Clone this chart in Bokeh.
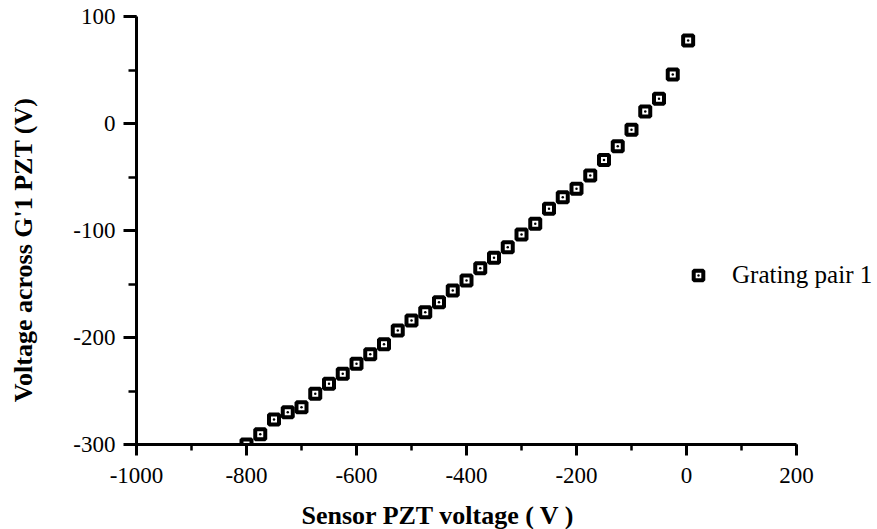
from bokeh.plotting import figure
from bokeh.models import (Range1d, SingleIntervalTicker, Legend, LegendItem, Title,
                          ColumnDataSource, CustomJSTickFormatter)
from bokeh.embed import file_html
from bokeh.resources import INLINE

# ---- data ----
sensor_pzt_v = [-800, -775, -750, -725, -700, -675, -650, -625, -600, -575, -550,
                -525, -500, -475, -450, -425, -400, -375, -350, -325, -300, -275,
                -250, -225, -200, -175, -150, -125, -100, -75, -50, -25, 3]
g1_pzt_v = [-300.0, -290.4, -276.6, -269.8, -265.1, -252.6, -243.3, -233.9, -224.6,
            -215.6, -206.2, -193.5, -184.1, -176.4, -167.0, -156.0, -146.7, -135.2,
            -125.5, -115.6, -103.7, -93.7, -79.7, -68.9, -61.0, -48.6, -34.0, -21.2,
            -5.9, 11.3, 23.1, 45.8, 77.6]
series_name = "Grating pair 1"
x_label = "Sensor PZT voltage ( V )"
y_label = "Voltage across G'1 PZT (V)"

FONT = "Liberation Serif"

X_MIN, X_MAX = -1000, 200
Y_MIN, Y_MAX = -300, 100
# the frame extends to the right of the x axis to leave room for the legend
X_VIEW_MAX = X_MAX + 81 / 0.55

p = figure(frame_width=741, frame_height=428,
           min_border_left=136, min_border_right=0,
           min_border_top=16, min_border_bottom=85,
           x_range=Range1d(X_MIN, X_VIEW_MAX), y_range=Range1d(Y_MIN, Y_MAX),
           output_backend="svg", toolbar_location=None,
           background_fill_color="white", border_fill_color="white")
p.outline_line_color = None
p.xgrid.visible = False
p.ygrid.visible = False

p.xaxis.ticker = SingleIntervalTicker(interval=200, num_minor_ticks=2)
p.yaxis.ticker = SingleIntervalTicker(interval=100, num_minor_ticks=2)
p.xaxis.bounds = (X_MIN, X_MAX)
p.yaxis.bounds = (Y_MIN, Y_MAX)

fmt = "return tick.toFixed(0);"
for ax in (p.xaxis[0], p.yaxis[0]):
    ax.formatter = CustomJSTickFormatter(code=fmt)
    ax.axis_line_width = 3
    ax.axis_line_color = "black"
    ax.major_tick_line_width = 3
    ax.minor_tick_line_width = 2.5
    ax.major_tick_in = 0
    ax.minor_tick_in = 0
    ax.major_label_text_font = FONT
    ax.major_label_text_font_size = "23px"
    ax.major_label_text_color = "black"

p.xaxis.major_tick_out = 11
p.xaxis.minor_tick_out = 6
p.xaxis.major_label_standoff = 12
p.yaxis.major_tick_out = 13
p.yaxis.minor_tick_out = 8
p.yaxis.major_label_standoff = 8

# y label: trailing no-break spaces shift the visible text a little downward
p.yaxis.axis_label = y_label + "\u00a0" * 6
p.yaxis.axis_label_standoff = 32
p.yaxis.axis_label_text_font = FONT
p.yaxis.axis_label_text_font_size = "26px"
p.yaxis.axis_label_text_font_style = "bold"
p.yaxis.axis_label_text_color = "black"

src = ColumnDataSource(dict(x=sensor_pzt_v, y=g1_pzt_v))
r = p.scatter("x", "y", source=src, marker="square_dot", size=10,
              fill_color="white", line_color="black", line_width=4)

legend = Legend(items=[LegendItem(label=series_name, renderers=[r])],
                location=(550, 155), padding=0, margin=0, spacing=0,
                glyph_width=24, glyph_height=24, label_height=24,
                label_standoff=22, border_line_color=None,
                background_fill_alpha=0,
                label_text_font=FONT, label_text_font_size="25px",
                label_text_color="black")
p.add_layout(legend, "center")

xt = Title(text=x_label, align="left", offset=165,
           text_font=FONT, text_font_size="26px", text_font_style="bold",
           text_color="black", standoff=26)
p.add_layout(xt, "below")

open("out.html", "w").write(file_html(p, INLINE))
